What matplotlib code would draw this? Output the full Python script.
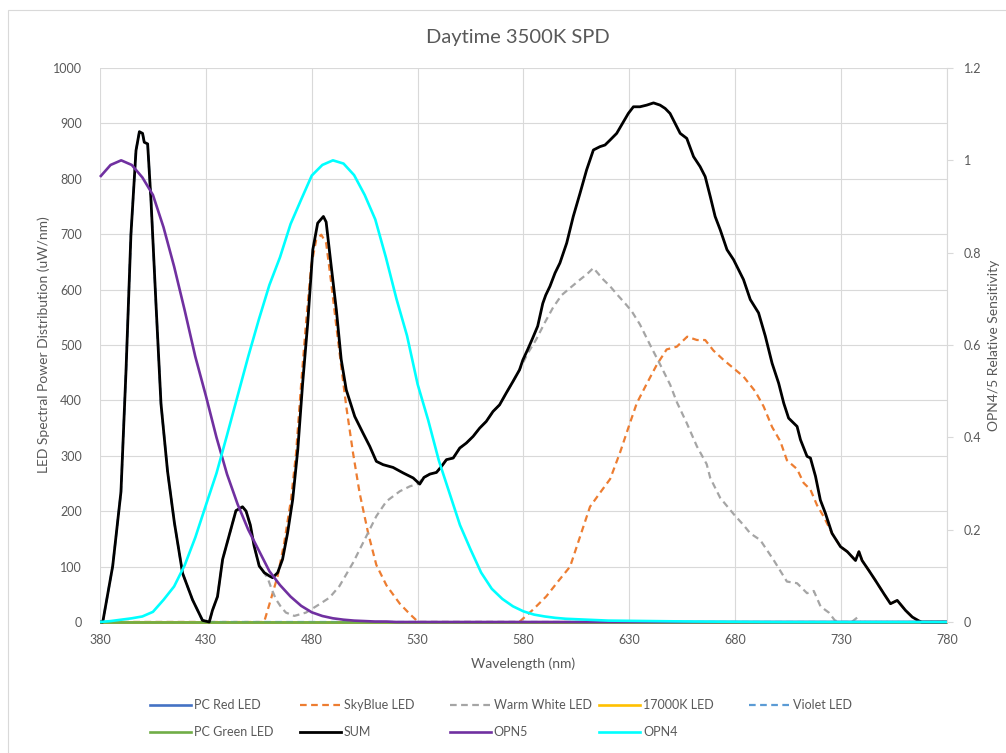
import matplotlib
matplotlib.use('Agg')
import matplotlib.pyplot as plt
from matplotlib.lines import Line2D
from matplotlib.patches import Rectangle
from matplotlib.ticker import FuncFormatter, MultipleLocator

plt.rcParams['font.family'] = ['Lato', 'DejaVu Sans']

## DATA ##

# flat series (zero across the whole range)
flat_wl = [380, 780]
pc_red = [0, 0]
k17000 = [0, 0]
pc_green = [0, 0]

# violet LED peak (sits under the SUM line)
violet_wl = [380, 381.3, 386, 389.9, 392.3, 394.6, 397.0, 398.6, 400.1, 400.9,
             402.5, 404.1, 406.4, 408.8, 411.9, 415.1, 419.0, 423.7, 428.4,
             431.6, 780]
violet = [0, 0, 101, 235, 455, 699, 851, 885, 882, 866,
          863, 760, 577, 394, 272, 180, 88, 40, 3,
          0, 0]

skyblue_wl = [380, 457.5, 460.7, 463.9, 467, 470.2, 472.6, 474.9, 477.3, 479.7,
              482.1, 484.5, 486.8, 489.2, 491.6, 493.9, 496.3, 499.5, 502.6,
              506.6, 510.5, 515.3, 521.6, 526.4, 530.3, 578, 584.4, 590.7,
              596.9, 602, 606.7, 611.4, 616.1, 620.9, 625.6, 629.9, 633.5,
              638.2, 642.9, 647.6, 652.4, 657.3, 661.9, 665.8, 669.7, 674.5,
              679.2, 683.9, 689.5, 693.4, 697.4, 701.3, 704.4, 709.2, 712.3,
              715.5, 718.6, 721.8, 725.7, 729.7, 732.9, 736.8, 738.4, 739.9,
              743.1, 746.2, 750.2, 753.3, 756.5, 760.4, 763.6, 766.7, 768, 780]
skyblue = [0, 0, 41, 83, 143, 221, 305, 425, 540, 642,
           690, 699, 684, 612, 534, 462, 389, 305, 233,
           161, 103, 66, 33, 14, 0, 0, 22, 46,
           76, 100, 154, 208, 233, 258, 306, 355, 395,
           430, 464, 492, 497, 515, 509, 509, 490, 473,
           458, 443, 416, 389, 352, 326, 292, 276, 251,
           239, 211, 190, 160, 136, 127, 111, 127, 111,
           93, 75, 51, 33, 39, 21, 9, 2, 0, 0]

warm_wl = [380, 431.6, 433.1, 435.5, 437.9, 441.0, 444.2, 447.3, 449, 451,
           452.8, 455.2, 457.6, 459.1, 461, 463.1, 465.5, 467.8, 471.8, 477.3,
           483.6, 488.4, 493.1, 499.5, 505.8, 510.5, 515.3, 521.6, 526.4, 530,
           533, 535.8, 538.9, 541.3, 543.6, 546.8, 549.9, 553, 556.2, 559.3,
           562.4, 565.6, 568.7, 571.8, 575, 578.1, 582, 586, 590, 594,
           598, 602, 606.7, 610, 613, 617.7, 620.9, 624, 628, 631.1,
           635, 639.8, 644.5, 649.3, 652.4, 657.1, 661.9, 666.5, 668.2, 672.9,
           679.2, 683.9, 687.1, 691.8, 698.1, 704.4, 709.2, 713.9, 717.1, 720.3,
           724.2, 727, 729, 735, 737.6, 739, 780]
warm = [0, 0, 21, 46, 113, 156, 201, 208, 200, 172,
        137, 101, 88, 80, 60, 41, 27, 17, 11, 17,
        32, 44, 65, 107, 155, 191, 218, 236, 245, 249,
        261, 267, 270, 281, 293, 296, 314, 323, 335, 350,
        362, 380, 392, 413, 434, 455, 485, 510, 540, 568,
        590, 603, 618, 628, 639, 618, 606, 592, 575, 561,
        537, 500, 465, 428, 397, 359, 317, 285, 260, 224,
        195, 175, 160, 148, 112, 73, 70, 52, 56, 28,
        17, 3, 0, 0, 8, 0, 0]

sum_wl = [380, 381.3, 386, 389.9, 392.3, 394.6, 397.0, 398.6, 400.1, 400.9,
          402.5, 404.1, 406.4, 408.8, 411.9, 415.1, 419.0, 423.7, 428.4, 431.6,
          433.1, 435.5, 437.9, 441.0, 444.2, 447.3, 449, 451, 452.8, 455.2,
          457.6, 460, 461.5, 463.9, 466.2, 468.6, 471, 473.4, 475.7, 478.1,
          480.5, 482.8, 485.5, 486.8, 489.2, 491.6, 493.9, 496.3, 500.3, 504.2,
          507.4, 510.5, 513.7, 518.4, 523.2, 527.9, 531, 533, 535.8, 538.9,
          541.3, 543.6, 546.8, 549.9, 553, 556.2, 559.3, 562.4, 565.6, 568.7,
          571.8, 575, 578.1, 579.7, 582, 584.4, 586.7, 589.1, 590.5, 592.5,
          594.9, 597.2, 600.4, 603.5, 606.7, 609.8, 613, 616.1, 618.5, 620.9,
          624, 627.2, 629.5, 631.9, 635, 638.2, 641.4, 644.5, 646.9, 649.2,
          651.6, 654, 657.1, 660.3, 663.4, 665.8, 668.2, 670.5, 672.9, 676.1,
          679.2, 683.9, 687.1, 691, 694.2, 697.4, 700.5, 702.9, 705.2, 709.2,
          710.8, 713.9, 715.5, 717.9, 720.2, 722.6, 725.7, 729.7, 732.9, 736.8,
          738.4, 739.9, 743.1, 746.2, 750.2, 753.3, 756.5, 760.4, 763.6, 766.7,
          768, 780]
sum_spd = [0, 0, 101, 235, 455, 699, 851, 885, 882, 866,
           863, 760, 577, 394, 272, 180, 88, 40, 3, 0,
           21, 46, 113, 156, 201, 208, 200, 175, 137, 101,
           89, 83, 80, 89, 113, 161, 221, 311, 431, 540,
           672, 720, 732, 722, 642, 564, 474, 419, 371, 341,
           317, 290, 284, 279, 269, 260, 249, 261, 267, 270,
           281, 293, 296, 314, 323, 335, 350, 362, 380, 392,
           413, 434, 455, 473, 492, 513, 534, 575, 590, 606,
           630, 648, 684, 732, 774, 816, 852, 858, 861, 870,
           882, 903, 918, 930, 930, 933, 937, 933, 927, 918,
           900, 882, 873, 840, 822, 804, 768, 732, 708, 672,
           654, 618, 582, 558, 516, 467, 431, 395, 368, 353,
           329, 299, 296, 263, 220, 196, 160, 136, 127, 111,
           127, 111, 93, 75, 51, 33, 39, 21, 9, 2,
           0, 0]

# opsin sensitivities (secondary axis)
opn_wl = [380, 385, 390, 395, 400, 405, 410, 415, 420, 425, 430, 435, 440,
          445, 450, 455, 460, 465, 470, 475, 480, 485, 490, 495, 500, 505,
          510, 515, 520, 525, 530, 535, 540, 545, 550, 555, 560, 565, 570,
          575, 580, 585, 590, 595, 600, 610, 620, 640, 660, 700, 780]
opn5 = [0.964, 0.99, 1.0, 0.99, 0.963, 0.925, 0.855, 0.77, 0.675, 0.575, 0.49,
        0.40, 0.32, 0.255, 0.20, 0.155, 0.11, 0.08, 0.055, 0.035, 0.021,
        0.013, 0.008, 0.005, 0.003, 0.002, 0.001, 0.001, 0, 0, 0, 0, 0, 0,
        0, 0, 0, 0, 0, 0, 0, 0, 0, 0, 0, 0, 0, 0, 0, 0, 0]
opn4 = [0.0, 0.002, 0.005, 0.008, 0.012, 0.022, 0.048, 0.077, 0.123, 0.183,
        0.253, 0.322, 0.405, 0.49, 0.575, 0.655, 0.73, 0.79, 0.862, 0.915,
        0.967, 0.99, 1.0, 0.993, 0.968, 0.925, 0.872, 0.79, 0.70, 0.62, 0.515,
        0.437, 0.35, 0.28, 0.21, 0.157, 0.107, 0.072, 0.05, 0.034, 0.023,
        0.016, 0.012, 0.009, 0.007, 0.005, 0.003, 0.002, 0.001, 0, 0]

x_ticks = [380, 430, 480, 530, 580, 630, 680, 730, 780]

## STYLES ##

TXT = '#595959'
GRID = '#D9D9D9'
dash = (3, 2)

series = [
    ('PC Red LED', flat_wl, pc_red, dict(color='#4472C4', lw=1.9), 1),
    ('SkyBlue LED', skyblue_wl, skyblue,
     dict(color='#ED7D31', lw=1.6, dashes=dash), 1),
    ('Warm White LED', warm_wl, warm,
     dict(color='#A5A5A5', lw=1.6, dashes=dash), 1),
    ('17000K LED', flat_wl, k17000, dict(color='#FFC000', lw=1.9), 1),
    ('Violet LED', violet_wl, violet,
     dict(color='#5B9BD5', lw=1.6, dashes=dash), 1),
    ('PC Green LED', flat_wl, pc_green, dict(color='#70AD47', lw=1.9), 1),
    ('SUM', sum_wl, sum_spd, dict(color='black', lw=2.0), 1),
    ('OPN5', opn_wl, opn5, dict(color='#7030A0', lw=1.9), 2),
    ('OPN4', opn_wl, opn4, dict(color='#00FFFF', lw=1.9), 2),
]

## FIGURE ##

W, H = 1006, 753
fig = plt.figure(figsize=(W / 100, H / 100), dpi=100)
fig.patches.append(Rectangle((8 / W, -0.1), 1.2, 1 - 10 / H + 0.1,
                             transform=fig.transFigure, fill=False,
                             edgecolor=GRID, lw=0.8))

ax = fig.add_axes([100 / W, 1 - 622 / H, 847 / W, 554 / H])
ax2 = ax.twinx()

for name, xs, ys, style, axis in series:
    target = ax if axis == 1 else ax2
    target.plot(xs, ys, clip_on=False, solid_capstyle='butt', **style)

ax.set_xlim(380, 780)
ax.set_ylim(0, 1000)
ax2.set_ylim(0, 1.2)
ax.set_xticks(x_ticks)
ax.yaxis.set_major_locator(MultipleLocator(100))
ax2.yaxis.set_major_locator(MultipleLocator(0.2))
ax2.yaxis.set_major_formatter(FuncFormatter(lambda v, p: '%g' % round(v, 2)))

ax.grid(True, color=GRID, lw=0.8)
ax.set_axisbelow(True)
for a in (ax, ax2):
    for s in ('top', 'left', 'bottom'):
        a.spines[s].set_visible(False)
ax.spines['right'].set_visible(False)
ax2.spines['right'].set_color(GRID)
ax2.spines['right'].set_linewidth(0.8)

ax.tick_params(axis='both', length=0, labelsize=9, labelcolor=TXT)
ax.tick_params(axis='y', pad=13)
ax.tick_params(axis='x', pad=9)
ax2.tick_params(axis='y', length=4, color=GRID, direction='out',
                labelsize=9, labelcolor=TXT, pad=8)

ax.set_xlabel('Wavelength (nm)', fontsize=10, color=TXT, labelpad=8)
ax.set_ylabel('LED Spectral Power Distribution (uW/nm)', fontsize=10,
              color=TXT, labelpad=2)
ax2.set_ylabel('OPN4/5 Relative Sensitivity', fontsize=10, color=TXT,
               labelpad=5)

fig.text(0.5 + 15 / W, 1 - 38 / H, 'Daytime 3500K SPD', ha='center',
         va='center', fontsize=14.5, color=TXT)

# legend drawn by hand, Excel style fixed-width columns
for i, (name, xs, ys, style, axis) in enumerate(series):
    row, col = divmod(i, 5)
    x0 = 150 + 149.75 * col
    y0 = 1 - (705 + 27 * row) / H
    fig.add_artist(Line2D([x0 / W, (x0 + 41) / W], [y0, y0],
                          transform=fig.transFigure, **style))
    fig.text((x0 + 44) / W, y0, name, ha='left', va='center',
             fontsize=9, color=TXT)

fig.savefig('out.png', dpi=100)
